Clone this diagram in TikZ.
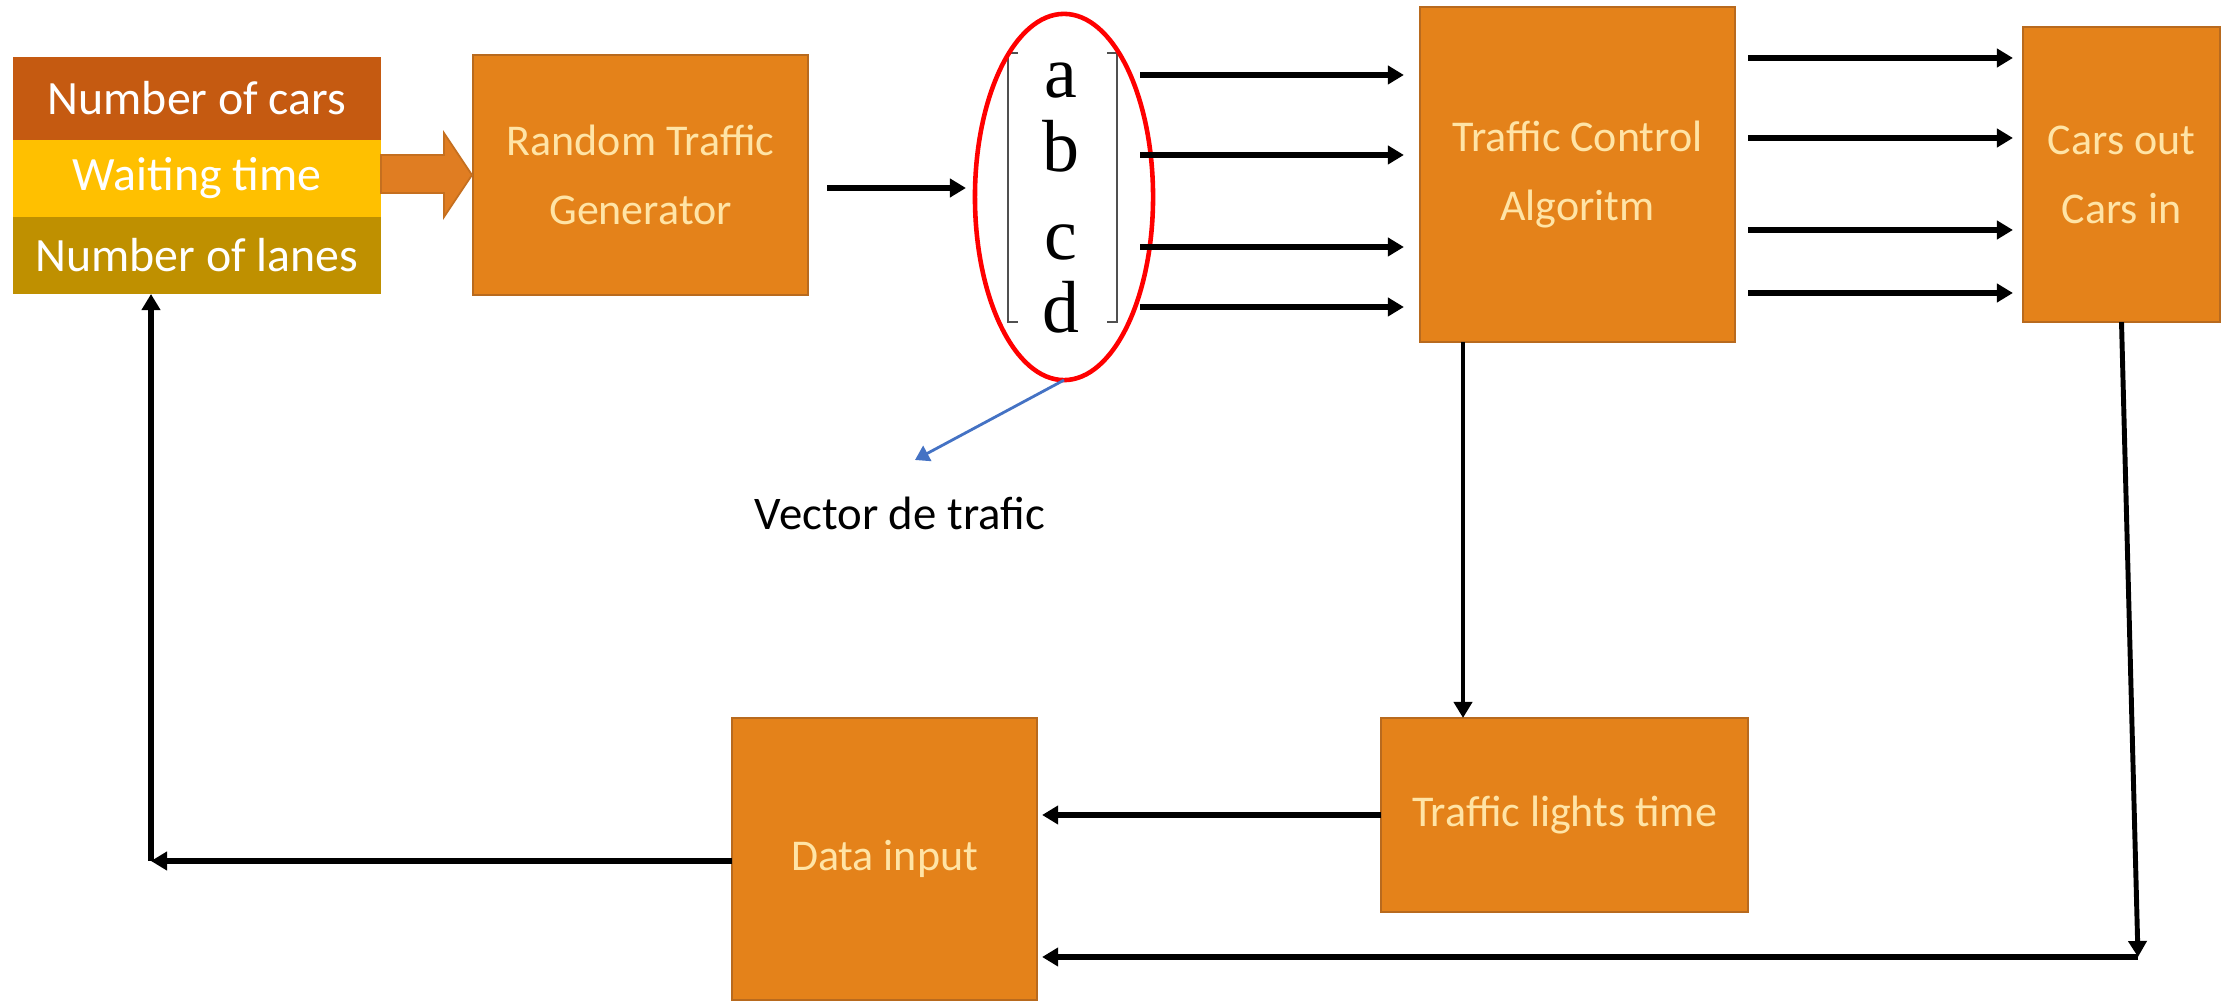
\documentclass[tikz,border=0pt]{standalone}
\usepackage{fontspec}
\setmainfont{Carlito}
\newfontfamily\serifletters{Liberation Serif}
\usetikzlibrary{arrows.meta,shapes.geometric}
\definecolor{boxorange}{HTML}{E4821A}
\definecolor{boxedge}{HTML}{B86A1E}
\definecolor{boxtext}{HTML}{FFE4A6}
\definecolor{carsc}{HTML}{C55A11}
\definecolor{waitc}{HTML}{FFC000}
\definecolor{lanesc}{HTML}{BF9000}
\definecolor{bluec}{HTML}{4472C4}
\definecolor{bracketc}{HTML}{505050}
\definecolor{blockc}{HTML}{E07D22}
\definecolor{blockedge}{HTML}{C56F1F}
\begin{document}
\begin{tikzpicture}[x=0.01cm,y=-0.01cm,
  box/.style={rectangle, fill=boxorange, draw=boxedge, line width=0.5pt, text=boxtext, align=center, inner sep=0pt, outer sep=0pt, font=\fontsize{12.5}{19.6}\selectfont},
  band/.style={rectangle, inner sep=0pt, outer sep=0pt, minimum width=3.68cm, text=white, font=\fontsize{13.6}{16}\selectfont},
  arr/.style={line width=1.7pt, -{Triangle[length=0.16cm,width=0.18cm]}},
  letter/.style={font=\serifletters\fontsize{21}{21}\selectfont, inner sep=0pt, anchor=base},
  bracketline/.style={draw=bracketc, line width=0.8pt},
  blockarrow/.style={fill=blockc, draw=blockedge, line width=0.5pt}
]
\useasboundingbox (0,0) rectangle (2239,1001);
\fill[white] (0,0) rectangle (2239,1001);

% input stack
\node[band, fill=carsc, minimum height=0.83cm] (ncars) at (197,98.5) {Number of cars};
\node[band, fill=waitc, minimum height=0.77cm] (nwait) at (197,178.5) {Waiting time};
\node[band, fill=lanesc, minimum height=0.77cm] (nlanes) at (197,255.5) {Number of lanes};

% boxes
\node[box, minimum width=3.35cm, minimum height=2.4cm] (rtg) at (640.5,175) {Random Traffic\\Generator};
\node[box, minimum width=3.15cm, minimum height=3.35cm] (tca) at (1577.5,174.5) {Traffic Control\\Algoritm};
\node[box, minimum width=1.97cm, minimum height=2.95cm] (carsbox) at (2121.5,174.5) {Cars out\\Cars in};
\node[box, minimum width=3.67cm, minimum height=1.94cm] (tlt) at (1564.5,815) {Traffic lights time};
\node[box, minimum width=3.05cm, minimum height=2.82cm] (di) at (884.5,859) {Data input};

% block arrow
\filldraw[blockarrow] (381,155) -- (444,155) -- (444,133) -- (472,175) -- (444,217) -- (444,193) -- (381,193) -- cycle;

% vector
\draw[bracketline] (1018,53) -- (1008,53) -- (1008,322) -- (1018,322);
\draw[bracketline] (1107,53) -- (1117,53) -- (1117,322) -- (1107,322);
\node[letter] (la) at (1061,98) {a};
\node[letter] (lb) at (1061,172) {b};
\node[letter] (lc) at (1061,260) {c};
\node[letter] (ld) at (1061,333) {d};
\node[ellipse, draw=red, line width=1.3pt, minimum width=1.78cm, minimum height=3.66cm, inner sep=0pt, outer sep=0pt] (vec) at (1064,197) {};

% connectors
\draw[arr, shorten <=0.19cm, shorten >=0.09cm] ([yshift=-0.13cm]rtg.east) -- ([yshift=-0.13cm]rtg.east -| vec.west);
\foreach \yy [count=\i] in {75,155,247,307} {
  \coordinate (vo\i) at (1140,\yy);
  \draw[arr, shorten >=0.16cm] (vo\i) -- (vo\i -| tca.west);
}
\foreach \yy [count=\i] in {58,138,230,293} {
  \coordinate (co\i) at (1748,\yy);
  \draw[arr, shorten >=0.1cm] (co\i) -- (co\i -| carsbox.west);
}
\coordinate (tdx) at (1463,0);
\draw[arr, line width=1.2pt] (tca.south -| tdx) -- (tlt.north -| tdx);
\draw[arr, shorten >=0.05cm] (tlt.west) -- (tlt.west -| di.east);
\coordinate (cr) at (2138,957);
\draw[arr, line width=1.4pt] (carsbox.south) -- (cr);
\draw[arr, shorten >=0.05cm] (cr) -- (cr -| di.east);
\coordinate (cl) at (151,861);
\draw[arr] (di.west |- cl) -- (cl);
\draw[arr] (cl) -- (cl |- nlanes.south);

% label
\coordinate (vtip) at (915,460);
\draw[bluec, line width=0.8pt, -{Triangle[length=0.14cm,width=0.17cm]}] (vec.south) -- (vtip);
\node[anchor=base, font=\fontsize{13.3}{16}\selectfont, inner sep=0pt] (vlabel) at (900,530) {Vector de trafic};
\end{tikzpicture}
\end{document}
